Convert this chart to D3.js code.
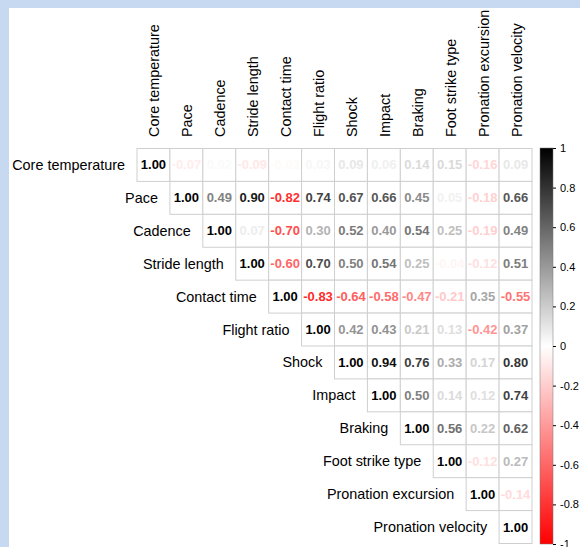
<!DOCTYPE html>
<html>
<head>
<meta charset="utf-8">
<script src="https://cdn.jsdelivr.net/npm/d3@7"></script>
<style>
    html, body { margin: 0; padding: 0; background: #c6d9f1; }
    #chart { width: 580px; height: 547px; }
    text { font-family: "Liberation Sans", Arial, sans-serif; }
</style>
</head>
<body>
<div id="chart"></div>
<script>
// variable names, same order for rows and columns
const variables = [
    'Core temperature', 'Pace', 'Cadence', 'Stride length', 'Contact time',
    'Flight ratio', 'Shock', 'Impact', 'Braking', 'Foot strike type',
    'Pronation excursion', 'Pronation velocity'
];

// upper triangle, each row starts at the diagonal
const coreTemperature = [1.00, -0.07, 0.02, -0.09, -0.02, 0.03, 0.09, 0.06, 0.14, 0.15, -0.16, 0.09];
const pace = [1.00, 0.49, 0.90, -0.82, 0.74, 0.67, 0.66, 0.45, 0.05, -0.18, 0.66];
const cadence = [1.00, 0.07, -0.70, 0.30, 0.52, 0.40, 0.54, 0.25, -0.19, 0.49];
const strideLength = [1.00, -0.60, 0.70, 0.50, 0.54, 0.25, -0.04, -0.12, 0.51];
const contactTime = [1.00, -0.83, -0.64, -0.58, -0.47, -0.21, 0.35, -0.55];
const flightRatio = [1.00, 0.42, 0.43, 0.21, 0.13, -0.42, 0.37];
const shock = [1.00, 0.94, 0.76, 0.33, 0.17, 0.80];
const impact = [1.00, 0.50, 0.14, 0.12, 0.74];
const braking = [1.00, 0.56, 0.22, 0.62];
const footStrikeType = [1.00, -0.12, 0.27];
const pronationExcursion = [1.00, -0.14];
const pronationVelocity = [1.00];

const legendTicks = [1, 0.8, 0.6, 0.4, 0.2, 0, -0.2, -0.4, -0.6, -0.8, -1];

const rows = [coreTemperature, pace, cadence, strideLength, contactTime, flightRatio,
    shock, impact, braking, footStrikeType, pronationExcursion, pronationVelocity];

const cells = [];
rows.forEach((vals, i) => {
    vals.forEach((v, k) => {
        cells.push({ r: variables[i], c: variables[i + k], v: v });
    });
});

const width = 580, height = 547;

const svg = d3.select('#chart').append('svg')
    .attr('width', width)
    .attr('height', height);

// white panel inside the blue frame
svg.append('rect')
    .attr('x', 9).attr('y', 8)
    .attr('width', width - 9).attr('height', height - 8)
    .attr('fill', '#fff');

const x = d3.scaleBand().domain(variables).range([137, 532]);
const y = d3.scaleBand().domain(variables).range([148.5, 543.5]);

// white -> black for positive, white -> red for negative
const color = d3.scaleLinear()
    .domain([-1, 0, 1])
    .range(['#ff0000', '#ffffff', '#000000']);

const chart = svg.append('g');

chart.selectAll('rect.cell')
    .data(cells)
    .join('rect')
    .attr('class', 'cell')
    .attr('x', d => x(d.c))
    .attr('y', d => y(d.r))
    .attr('width', x.bandwidth())
    .attr('height', y.bandwidth())
    .attr('fill', '#fff')
    .attr('stroke', '#cfcfcf')
    .attr('stroke-width', 1);

chart.selectAll('text.val')
    .data(cells)
    .join('text')
    .attr('class', 'val')
    .attr('x', d => x(d.c) + x.bandwidth() / 2)
    .attr('y', d => y(d.r) + y.bandwidth() / 2)
    .attr('text-anchor', 'middle')
    .attr('dominant-baseline', 'central')
    .style('font-size', '13px')
    .style('font-weight', 'bold')
    .attr('fill', d => color(d.v))
    .text(d => d.v.toFixed(2));

// row labels, right aligned next to the diagonal
svg.selectAll('text.rowlab')
    .data(variables)
    .join('text')
    .attr('class', 'rowlab')
    .attr('x', d => x(d) - 12)
    .attr('y', d => y(d) + y.bandwidth() / 2)
    .attr('text-anchor', 'end')
    .attr('dominant-baseline', 'central')
    .style('font-size', '14.4px')
    .attr('fill', '#000')
    .text(d => d);

// column labels, rotated
svg.selectAll('text.collab')
    .data(variables)
    .join('text')
    .attr('class', 'collab')
    .attr('transform', d => `translate(${x(d) + x.bandwidth() / 2 + 1}, 137) rotate(-90)`)
    .attr('text-anchor', 'start')
    .attr('dominant-baseline', 'central')
    .style('font-size', '14.4px')
    .attr('fill', '#000')
    .text(d => d);

// colour legend
const legendY = d3.scaleLinear().domain([-1, 1]).range([544, 148]);

const grad = svg.append('defs').append('linearGradient')
    .attr('id', 'legend-grad')
    .attr('x1', 0).attr('y1', 1).attr('x2', 0).attr('y2', 0);

grad.selectAll('stop')
    .data(d3.range(-1, 1.001, 0.1))
    .join('stop')
    .attr('offset', d => (d + 1) / 2)
    .attr('stop-color', d => color(d));

svg.append('rect')
    .attr('x', 540)
    .attr('y', legendY(1))
    .attr('width', 13)
    .attr('height', legendY(-1) - legendY(1))
    .attr('fill', 'url(#legend-grad)')
    .attr('stroke', '#777')
    .attr('stroke-width', 0.5);

const legendAxis = svg.append('g')
    .attr('transform', 'translate(553, 0)')
    .call(d3.axisRight(legendY)
        .tickValues(legendTicks)
        .tickFormat(d => String(d))
        .tickSize(3)
        .tickPadding(4));

legendAxis.select('.domain').remove();
legendAxis.selectAll('text')
    .style('font-size', '11px')
    .style('font-family', '"Liberation Sans", Arial, sans-serif')
    .attr('fill', '#000');
legendAxis.selectAll('line').attr('stroke', '#000');
</script>
</body>
</html>
